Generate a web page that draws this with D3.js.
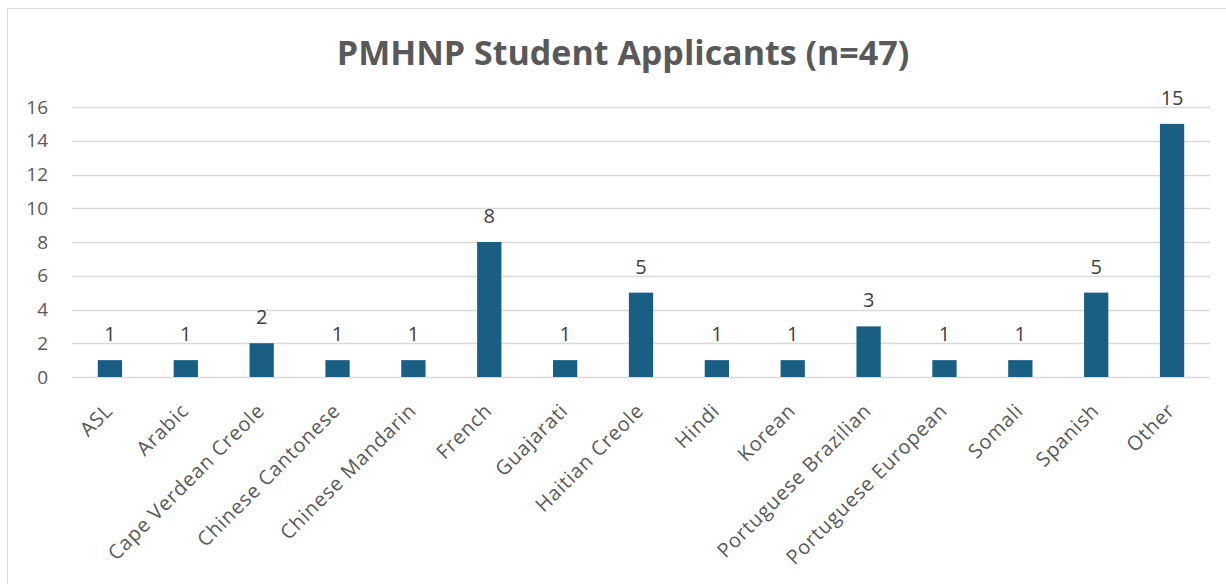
<!DOCTYPE html>
<html>
<head>
<meta charset="utf-8">
<script src="https://cdn.jsdelivr.net/npm/d3@7"></script>
<style>
  html, body { margin: 0; padding: 0; background: #fff; }
  svg { display: block; font-family: "Open Sans", Roboto, sans-serif; }
</style>
</head>
<body>
<svg id="chart" width="1226" height="584"></svg>
<script>
// ─── Data ─────────────────────────────────────────────────────────────────────
const languages = ['ASL', 'Arabic', 'Cape Verdean Creole', 'Chinese Cantonese', 'Chinese Mandarin',
  'French', 'Guajarati', 'Haitian Creole', 'Hindi', 'Korean', 'Portuguese Brazilian',
  'Portuguese European', 'Somali', 'Spanish', 'Other'];
const applicants = [1, 1, 2, 1, 1, 8, 1, 5, 1, 1, 3, 1, 1, 5, 15];
const yTicks = [0, 2, 4, 6, 8, 10, 12, 14, 16];

const W = 1226, H = 584;
const margin = { top: 107, right: 16, bottom: 207, left: 72 };
const innerW = W - margin.left - margin.right;
const innerH = H - margin.top - margin.bottom;
const FONT = '"Open Sans", Roboto, sans-serif';

const svg = d3.select('#chart');

// Chart frame
svg.append('rect')
  .attr('x', 7.5).attr('y', 8.5).attr('width', W).attr('height', H)
  .attr('fill', '#fff').attr('stroke', '#d9d9d9').attr('stroke-width', 1);

// Title
svg.append('text')
  .attr('x', 623).attr('y', 65)
  .attr('text-anchor', 'middle')
  .attr('font-size', 34).attr('font-weight', 700).attr('fill', '#595959')
  .text('PMHNP Student Applicants (n=47)');

const g = svg.append('g').attr('transform', `translate(${margin.left},${margin.top})`);

const x = d3.scaleBand().domain(languages).range([0, innerW]).paddingInner(0.68).paddingOuter(0.34);
const y = d3.scaleLinear().domain([0, 16]).range([innerH, 0]);

// Gridlines
g.append('g').selectAll('line').data(yTicks).join('line')
  .attr('x1', 0).attr('x2', innerW)
  .attr('y1', d => Math.round(y(d)) + 0.5).attr('y2', d => Math.round(y(d)) + 0.5)
  .attr('stroke', '#d9d9d9').attr('stroke-width', 1.5);

// Bars
g.append('g').selectAll('rect').data(languages).join('rect')
  .attr('x', d => x(d))
  .attr('y', (d, i) => y(applicants[i]))
  .attr('width', x.bandwidth())
  .attr('height', (d, i) => innerH - y(applicants[i]))
  .attr('fill', '#195e83');

// Value labels
g.append('g').selectAll('text').data(languages).join('text')
  .attr('x', d => x(d) + x.bandwidth() / 2)
  .attr('y', (d, i) => y(applicants[i]) - 19)
  .attr('text-anchor', 'middle').attr('font-size', 20).attr('fill', '#404040')
  .text((d, i) => applicants[i]);

// Y axis
g.append('g')
  .call(d3.axisLeft(y).tickValues(yTicks).tickSize(0).tickPadding(24))
  .call(a => a.select('.domain').remove())
  .selectAll('text').attr('font-size', 19).attr('fill', '#595959')
  .attr('font-family', FONT);

// X axis (rotated labels)
g.append('g').attr('transform', `translate(0,${innerH})`)
  .call(d3.axisBottom(x).tickSize(0).tickPadding(0))
  .call(a => a.select('.domain').remove())
  .selectAll('text')
  .attr('font-size', 20).attr('fill', '#595959')
  .attr('font-family', FONT)
  .attr('letter-spacing', 0.8)
  .attr('text-anchor', 'end')
  .attr('dy', 0).attr('y', 0)
  .attr('transform', 'translate(4,35) rotate(-45)');
</script>
</body>
</html>
